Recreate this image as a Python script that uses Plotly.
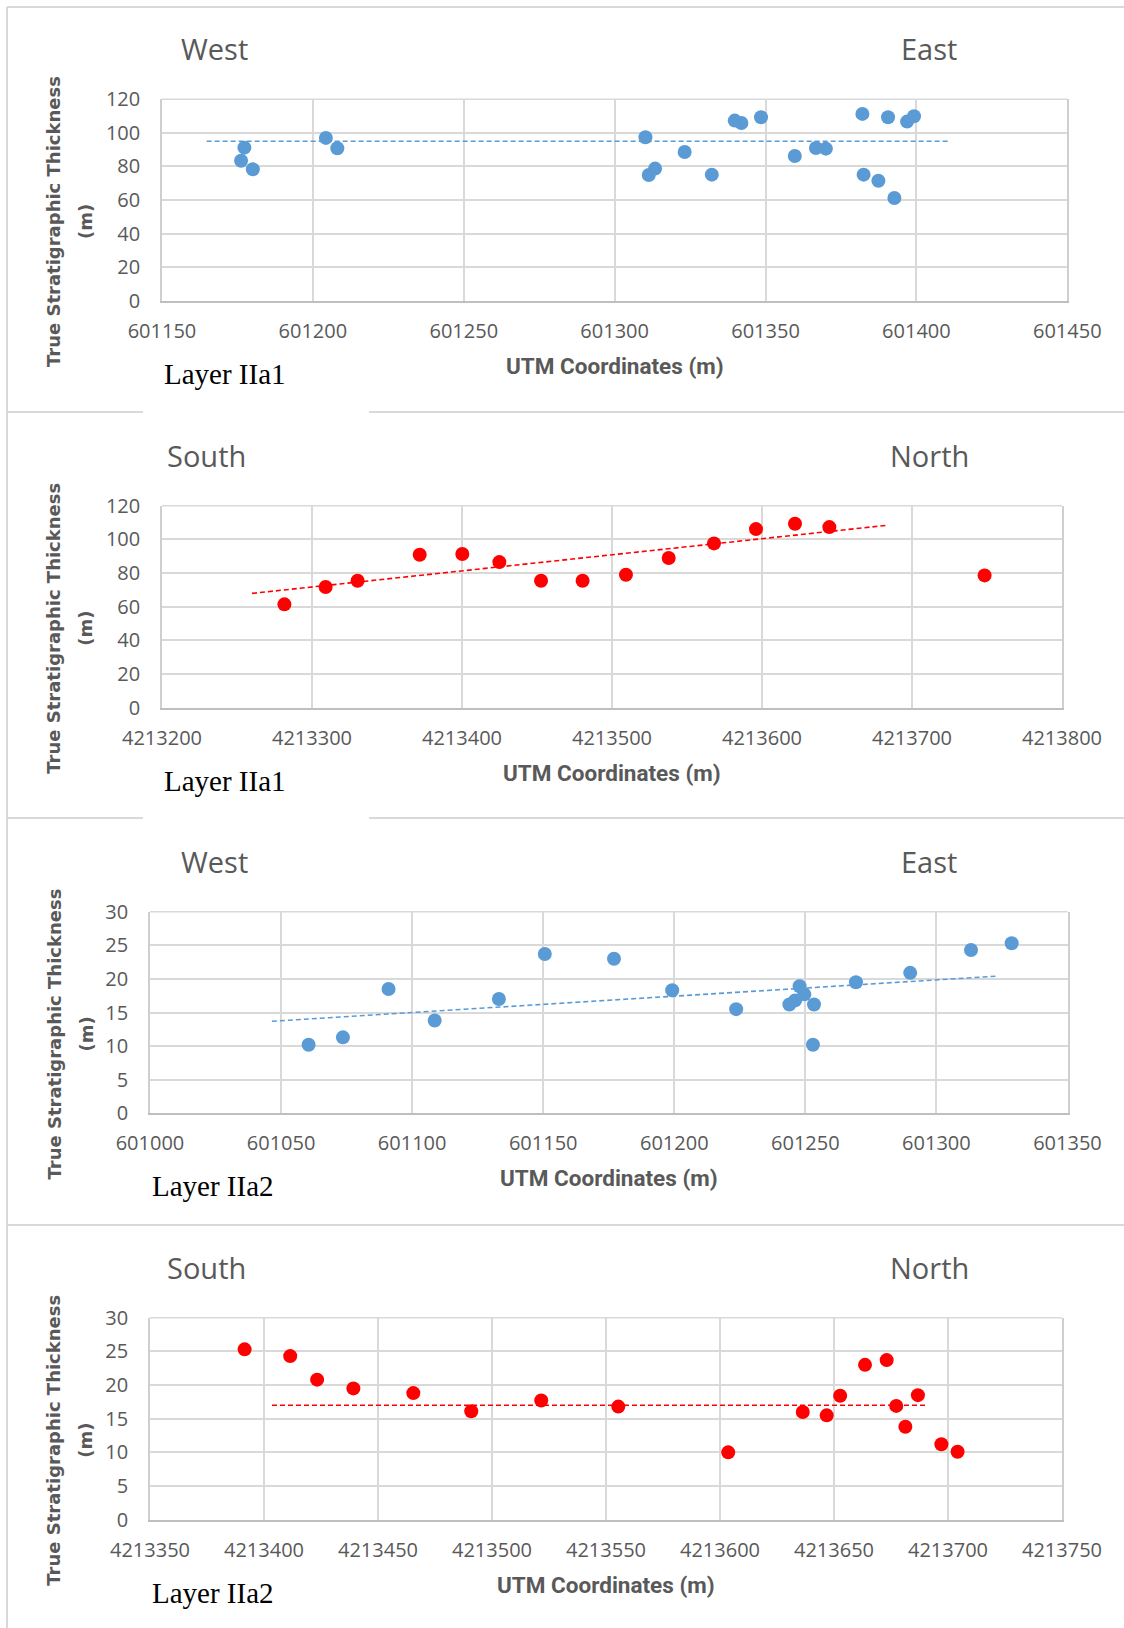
import plotly.graph_objects as go

# ---------------------------------------------------------------------------
# Data: true stratigraphic thickness (m) against UTM coordinate (m)
# ---------------------------------------------------------------------------
# Layer IIa1, west-east profile (UTM easting)
iia1_we_x = [601176.2, 601177.3, 601180.1, 601204.3, 601208.1, 601310.2,
             601311.3, 601313.4, 601323.2, 601332.2, 601339.8, 601342.0,
             601348.5, 601359.7, 601366.7, 601370.0, 601382.1, 601382.5,
             601387.4, 601390.6, 601392.7, 601396.9, 601399.2]
iia1_we_y = [83.4, 91.2, 78.3, 97.0, 90.8, 97.4, 74.9, 78.7, 88.6, 75.1,
             107.3, 105.9, 109.3, 86.2, 91.0, 90.6, 111.3, 75.1, 71.5,
             109.3, 61.2, 106.7, 109.9]
iia1_we_trend_x = [601164.8, 601410.7]
iia1_we_trend_y = [95.0, 95.0]

# Layer IIa1, south-north profile (UTM northing)
iia1_sn_x = [4213281.6, 4213309.1, 4213330.4, 4213371.8, 4213400.2,
             4213424.9, 4213452.7, 4213480.4, 4213509.3, 4213537.8,
             4213568.0, 4213596.0, 4213622.0, 4213644.9, 4213748.4]
iia1_sn_y = [61.4, 71.7, 75.4, 90.9, 91.3, 86.5, 75.4, 75.4, 79.0, 88.9,
             97.6, 106.1, 109.3, 107.3, 78.6]
iia1_sn_trend_x = [4213260.0, 4213682.7]
iia1_sn_trend_y = [67.9, 108.3]

# Layer IIa2, west-east profile (UTM easting)
iia2_we_x = [601060.5, 601073.6, 601091.0, 601108.6, 601133.1, 601150.6,
             601177.0, 601199.2, 601223.6, 601243.9, 601246.1, 601247.8,
             601249.6, 601253.3, 601252.9, 601269.3, 601290.0, 601313.2,
             601328.7]
iia2_we_y = [10.2, 11.3, 18.5, 13.8, 17.0, 23.7, 23.0, 18.3, 15.5, 16.2,
             16.8, 18.9, 17.7, 16.2, 10.2, 19.5, 20.9, 24.3, 25.3]
iia2_we_trend_x = [601046.5, 601322.5]
iia2_we_trend_y = [13.7, 20.4]

# Layer IIa2, south-north profile (UTM northing)
iia2_sn_x = [4213391.5, 4213411.5, 4213423.3, 4213439.2, 4213465.5,
             4213490.9, 4213521.6, 4213555.4, 4213603.6, 4213636.3,
             4213646.8, 4213652.7, 4213663.6, 4213673.1, 4213677.3,
             4213681.3, 4213686.8, 4213697.1, 4213704.2]
iia2_sn_y = [25.3, 24.3, 20.8, 19.5, 18.8, 16.1, 17.7, 16.8, 10.0, 16.0,
             15.5, 18.4, 23.0, 23.7, 16.9, 13.8, 18.5, 11.2, 10.1]
iia2_sn_trend_x = [4213403.5, 4213690.8]
iia2_sn_trend_y = [17.0, 17.0]

# Axis ranges and tick steps
x_ranges = [[601150, 601450], [4213200, 4213800], [601000, 601350], [4213350, 4213750]]
x_steps = [50, 100, 50, 50]
y_ranges = [[0, 120], [0, 120], [0, 30], [0, 30]]
y_steps = [20, 20, 5, 5]

layer_names = ["Layer IIa1", "Layer IIa1", "Layer IIa2", "Layer IIa2"]
left_ends = ["West", "South", "West", "South"]
right_ends = ["East", "North", "East", "North"]

x_title = "UTM Coordinates (m)"
y_title_main = "True Stratigraphic Thickness"
y_title_unit = "(m)"

# ---------------------------------------------------------------------------
# Page geometry (pixels)
# ---------------------------------------------------------------------------
W, H = 1124, 1628
BLUE = "#5B9BD5"
RED = "#FF0000"
GRAY_TXT = "#595959"
GRID = "#D9D9D9"

# plot boxes: left, top, right, bottom
boxes = [
    (162, 99.3, 1067.3, 300.7),
    (162, 505.7, 1062, 707.7),
    (150, 911.7, 1067.5, 1113.3),
    (150, 1317.7, 1062, 1519.7),
]
end_label_x = [(214, 929), (206, 929), (214, 929), (206, 929)]


def xf(px):
    return px / W


def yf(py):
    return 1 - py / H


panels = [
    (iia1_we_x, iia1_we_y, iia1_we_trend_x, iia1_we_trend_y, BLUE),
    (iia1_sn_x, iia1_sn_y, iia1_sn_trend_x, iia1_sn_trend_y, RED),
    (iia2_we_x, iia2_we_y, iia2_we_trend_x, iia2_we_trend_y, BLUE),
    (iia2_sn_x, iia2_sn_y, iia2_sn_trend_x, iia2_sn_trend_y, RED),
]

fig = go.Figure()
annotations = []
shapes = []
layout_axes = {}

for i, (px_, py_, tx, ty, col) in enumerate(panels):
    n = i + 1
    xa = "x" if n == 1 else f"x{n}"
    ya = "y" if n == 1 else f"y{n}"
    left, top, right, bottom = boxes[i]

    fig.add_trace(go.Scatter(
        x=tx, y=ty, mode="lines", xaxis=xa, yaxis=ya,
        line=dict(color=col, width=1.6, dash="5px,3px"),
        showlegend=False, hoverinfo="skip",
    ))
    fig.add_trace(go.Scatter(
        x=px_, y=py_, mode="markers", xaxis=xa, yaxis=ya,
        marker=dict(color=col, size=14, line=dict(width=0)),
        showlegend=False,
    ))

    xkey = "xaxis" if n == 1 else f"xaxis{n}"
    ykey = "yaxis" if n == 1 else f"yaxis{n}"
    layout_axes[xkey] = dict(
        domain=[xf(left), xf(right)], anchor=ya, range=x_ranges[i],
        tick0=x_ranges[i][0], dtick=x_steps[i], tickformat="d",
        showgrid=True, gridcolor=GRID, gridwidth=1.6, zeroline=False,
        showline=True, linecolor="#BFBFBF", linewidth=1.8,
        ticks="outside", ticklen=11, tickcolor="rgba(0,0,0,0)",
        tickfont=dict(family="Open Sans", size=20, color=GRAY_TXT),
        automargin=False, fixedrange=True,
    )
    layout_axes[ykey] = dict(
        domain=[yf(bottom), yf(top)], anchor=xa, range=y_ranges[i],
        tick0=0, dtick=y_steps[i], tickformat="d",
        showgrid=True, gridcolor=GRID, gridwidth=1.6, zeroline=False,
        showline=True, linecolor="#CFCFCF", linewidth=1.6, mirror=True,
        ticks="outside", ticklen=16, tickcolor="rgba(0,0,0,0)",
        tickfont=dict(family="Open Sans", size=20, color=GRAY_TXT),
        automargin=False, fixedrange=True,
    )

    # top edge of the plot area, drawn in the gridline colour
    shapes.append(dict(
        type="line", xref=f"{xa} domain", yref=f"{ya} domain",
        x0=0, x1=1, y0=1, y1=1, layer="below",
        line=dict(color=GRID, width=1.6),
    ))

    # direction labels above the plot
    lx, rx = end_label_x[i]
    for txt, cx in ((left_ends[i], lx), (right_ends[i], rx)):
        annotations.append(dict(
            text=txt, x=xf(cx), y=yf(top - 50.5), xref="paper", yref="paper",
            xanchor="center", yanchor="middle", showarrow=False,
            font=dict(family="Open Sans", size=29, color=GRAY_TXT),
        ))

    # axis titles
    annotations.append(dict(
        text=f"<b>{x_title}</b>", x=xf((left + right) / 2), y=yf(bottom + 65),
        xref="paper", yref="paper", xanchor="center", yanchor="middle",
        showarrow=False, font=dict(family="Roboto", size=22.5, color=GRAY_TXT),
    ))
    ymid = (top + bottom) / 2 + 22
    annotations.append(dict(
        text=f"<b>{y_title_main}</b>", x=xf(54), y=yf(ymid), textangle=-90,
        xref="paper", yref="paper", xanchor="center", yanchor="middle",
        showarrow=False, font=dict(family="DejaVu Sans", size=18, color=GRAY_TXT),
    ))
    annotations.append(dict(
        text=f"<b>{y_title_unit}</b>", x=xf(86), y=yf(ymid), textangle=-90,
        xref="paper", yref="paper", xanchor="center", yanchor="middle",
        showarrow=False, font=dict(family="DejaVu Sans", size=18, color=GRAY_TXT),
    ))

    # layer name
    annotations.append(dict(
        text=layer_names[i], x=xf(left), y=yf(bottom + 73),
        xref="paper", yref="paper", xanchor="left", yanchor="middle",
        showarrow=False, font=dict(family="Liberation Serif", size=29, color="black"),
    ))

# panel frames
frame = dict(type="line", xref="paper", yref="paper",
             line=dict(color=GRID, width=2))
shapes.append(dict(frame, x0=xf(7), x1=xf(7), y0=yf(7), y1=yf(H)))
shapes.append(dict(frame, x0=xf(7), x1=1, y0=yf(7), y1=yf(7)))
for sep_y, gap in ((412, True), (818, True), (1225, False)):
    if gap:
        shapes.append(dict(frame, x0=xf(7), x1=xf(143), y0=yf(sep_y), y1=yf(sep_y)))
        shapes.append(dict(frame, x0=xf(369), x1=1, y0=yf(sep_y), y1=yf(sep_y)))
    else:
        shapes.append(dict(frame, x0=xf(7), x1=1, y0=yf(sep_y), y1=yf(sep_y)))

fig.update_layout(
    template="none",
    width=W, height=H,
    margin=dict(l=0, r=0, t=0, b=0, pad=0, autoexpand=False),
    paper_bgcolor="white", plot_bgcolor="white",
    annotations=annotations, shapes=shapes, showlegend=False,
    **layout_axes,
)

fig.write_html("out.html", config={"displayModeBar": False})
